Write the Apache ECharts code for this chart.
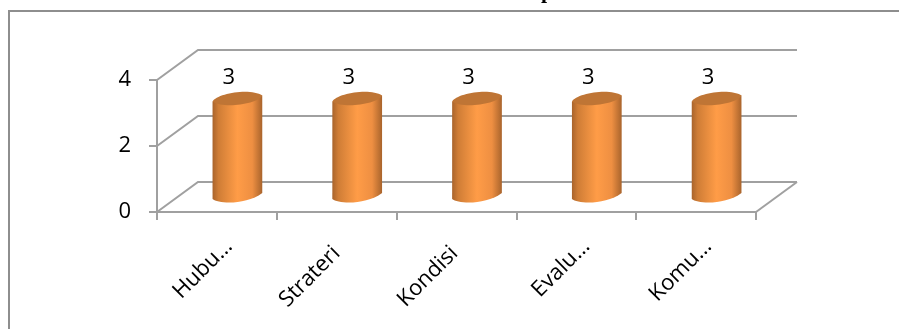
<!DOCTYPE html>
<html><head><meta charset="utf-8">
<style>html,body{margin:0;padding:0;background:#fff}#c{width:899px;height:329px}</style>
<script src="https://cdn.jsdelivr.net/npm/echarts@6/dist/echarts.min.js"></script>
</head><body><div id="c"></div>
<script>
const categories = ['Hubu…', 'Strateri', 'Kondisi', 'Evalu…', 'Komu…'];
const values = [3, 3, 3, 3, 3];
const yTicks = [0, 2, 4];
const labelShiftX = [12, 0, -2, 10, 12];
const labelShiftY = [31, 38, 38, 31, 31];
const depthX = 41, depthY = -30;
const gridColor = '#a0a0a0';
const fontName = 'Open Sans';
const chart = echarts.init(document.getElementById('c'), null, {renderer: 'canvas'});
const gridStyle = {stroke: gridColor, lineWidth: 2, fill: null};
function renderWall(params, api) {
  const v = api.value(0);
  const a = api.coord([0, v]);
  const band = api.size([1, 0])[0];
  const x0 = a[0] - band / 2;
  const x1 = x0 + band * categories.length;
  const y = a[1];
  const children = [
    {type: 'polyline', shape: {points: [[x0, y], [x0 + depthX, y + depthY], [x1 + depthX, y + depthY]]}, style: gridStyle}
  ];
  if (v === 0) {
    children.push({type: 'line', shape: {x1: x1, y1: y, x2: x1 + depthX, y2: y + depthY}, style: gridStyle});
  }
  return {type: 'group', children};
}
function renderCyl(params, api) {
  const c = api.coord([api.value(0), api.value(1)]);
  const b = api.coord([api.value(0), 0]);
  const band = api.size([1, 0])[0];
  const w = band * 0.415;
  const cx = c[0] + depthX / 2;
  const lx = cx - w / 2, rx = cx + w / 2;
  const dz = depthY / 2;
  const top = c[1] + dz, bot = b[1] + dz;
  const yl = top + 3.5, yr = top - 2.5;
  const ybl = bot + 2, ybr = bot - 4;
  const sideFill = new echarts.graphic.LinearGradient(0, 0, 1, 0, [
    {offset: 0, color: '#a9642c'},
    {offset: 0.12, color: '#cf7d36'},
    {offset: 0.5, color: '#ff9c47'},
    {offset: 0.8, color: '#ee8f42'},
    {offset: 1, color: '#a9642c'}
  ]);
  const body = [
    'M', lx, yl, 'L', lx, ybl,
    'C', lx + 6, ybl + 5, rx - 16, ybl + 6, rx, ybr,
    'L', rx, yr, 'Z'
  ].join(' ');
  const topPath = [
    'M', lx, yl,
    'C', lx + 4, yl - 8, rx - 12, yr - 8, rx, yr,
    'C', rx - 4, yr + 8, lx + 12, yl + 8, lx, yl, 'Z'
  ].join(' ');
  return {type: 'group', children: [
    {type: 'path', shape: {pathData: body}, style: {fill: sideFill}},
    {type: 'path', shape: {pathData: topPath}, style: {fill: '#bf7535'}}
  ]};
}
function renderValueLabel(params, api) {
  const c = api.coord([api.value(0), api.value(1)]);
  return {type: 'text', style: {
    x: c[0] + 12, y: c[1] - 35, text: String(api.value(1)),
    fill: '#000', fontSize: 22, fontFamily: fontName, align: 'center', verticalAlign: 'middle'
  }};
}
function renderCatLabel(params, api) {
  const i = api.value(0);
  const c = api.coord([i, 0]);
  return {type: 'text', x: c[0] + labelShiftX[i], y: c[1] + labelShiftY[i], rotation: Math.PI / 4, style: {
    x: 0, y: 0, text: categories[i],
    fill: '#000', fontSize: 22, fontFamily: fontName, align: 'right', verticalAlign: 'middle'
  }};
}
chart.setOption({
  animation: false,
  backgroundColor: '#fff',
  graphic: [
    {type: 'polyline', silent: true, z: 0, shape: {points: [[9, 329], [9, 11], [899, 11]]}, style: {stroke: '#8e8e8e', lineWidth: 2, fill: null}},
    {type: 'text', silent: true, z: 0, x: 547, y: -19, style: {text: 'p', fill: '#000', fontSize: 22, fontWeight: 'bold', fontFamily: 'Liberation Serif', align: 'center'}}
  ],
  grid: {left: 157, right: 143, top: 80, bottom: 117, containLabel: false},
  xAxis: {
    type: 'category', data: categories, boundaryGap: true,
    axisLine: {show: true, lineStyle: {color: gridColor, width: 2}},
    axisTick: {show: true, alignWithLabel: false, length: 8, lineStyle: {color: gridColor, width: 2}},
    axisLabel: {show: false},
    splitLine: {show: false}
  },
  yAxis: {
    type: 'value', min: 0, max: 4, interval: 2,
    axisLine: {show: true, lineStyle: {color: gridColor, width: 2}},
    axisTick: {show: true, length: 8, lineStyle: {color: gridColor, width: 2}},
    axisLabel: {margin: 26, color: '#000', fontSize: 22, fontFamily: fontName, padding: [8, 0, 0, 0], showMinLabel: true, showMaxLabel: true},
    splitLine: {show: false}
  },
  series: [
    {type: 'custom', name: 'wall', silent: true, z: 1, clip: false, renderItem: renderWall, data: yTicks.map(v => [v])},
    {type: 'custom', name: 'bars', silent: true, z: 3, clip: false, renderItem: renderCyl, data: values.map((v, i) => [i, v]), encode: {x: 0, y: 1}},
    {type: 'custom', name: 'valueLabels', silent: true, z: 4, clip: false, renderItem: renderValueLabel, data: values.map((v, i) => [i, v]), encode: {x: 0, y: 1}},
    {type: 'custom', name: 'catLabels', silent: true, z: 4, clip: false, renderItem: renderCatLabel, data: values.map((v, i) => [i, v]), encode: {x: 0, y: 1}}
  ]
});
</script></body></html>
